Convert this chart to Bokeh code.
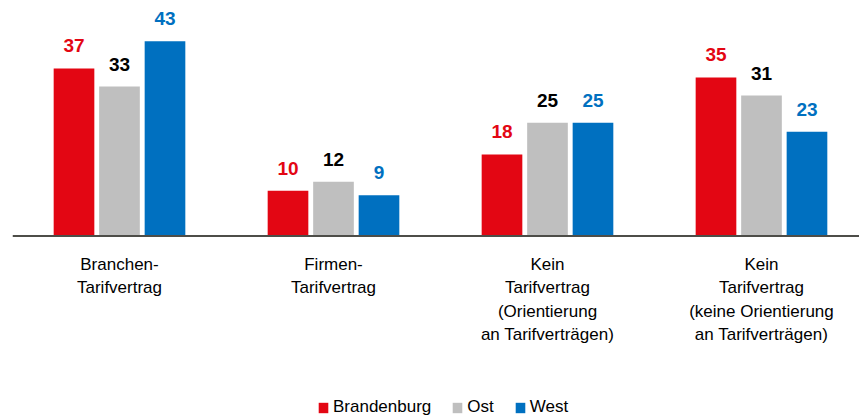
from bokeh.plotting import figure
from bokeh.models import Range1d, Legend, LegendItem, ColumnDataSource, LabelSet, Span
from bokeh.core.properties import value
from bokeh.transform import dodge
from bokeh.embed import file_html
from bokeh.resources import INLINE

categories = ["Branchen-\nTarifvertrag", "Firmen-\nTarifvertrag",
              "Kein\nTarifvertrag\n(Orientierung\nan Tarifverträgen)",
              "Kein\nTarifvertrag\n(keine Orientierung\nan Tarifverträgen)"]
series = ["Brandenburg", "Ost", "West"]
brandenburg = [37, 10, 18, 35]
ost = [33, 12, 25, 31]
west = [43, 9, 25, 23]

bar_colors = ["#E30613", "#BFBFBF", "#0070C0"]
label_colors = ["#E30613", "#000000", "#0070C0"]
FONT = "Liberation Sans"

idx = list(range(len(categories)))
src = ColumnDataSource(dict(x=idx, Brandenburg=brandenburg, Ost=ost, West=west,
                            lb=[str(v) for v in brandenburg],
                            lo=[str(v) for v in ost],
                            lw=[str(v) for v in west],
                            base=[0] * len(idx), cat=categories))

p = figure(width=859, height=418, output_backend="svg", toolbar_location=None,
           x_range=Range1d(-0.5, 3.458), y_range=Range1d(-40.3, 52.0),
           min_border_left=12, min_border_right=0, min_border_top=0,
           min_border_bottom=0)
p.outline_line_color = None
p.grid.visible = False
p.axis.visible = False

offsets = [-0.2126, 0.0, 0.2126]
renderers = []
label_cols = ["lb", "lo", "lw"]
for s, off, c, lc, col in zip(series, offsets, bar_colors, label_colors, label_cols):
    r = p.vbar(x=dodge("x", off, range=p.x_range), top=s, width=0.19, source=src,
               fill_color=c, line_color=None)
    renderers.append(r)
    ls = LabelSet(x=dodge("x", off, range=p.x_range), y=s, text=col, source=src,
                  text_align="center", text_baseline="alphabetic", y_offset=16,
                  text_font=value(FONT), text_font_style="bold", text_font_size="19px",
                  text_color=lc)
    p.add_layout(ls)

# category axis line
p.add_layout(Span(location=0, dimension="width", line_color="#4D4D48", line_width=2))

# category labels below the axis line
p.text(x="x", y="base", text="cat", source=src, text_align="center", text_baseline="top",
       y_offset=19, text_font=value(FONT), text_font_size="17px", text_color="#000000",
       text_line_height=1.23)

legend = Legend(items=[LegendItem(label=s, renderers=[r]) for s, r in zip(series, renderers)],
                orientation="horizontal", location=(305, 1),
                glyph_width=12, glyph_height=13, label_standoff=4, spacing=20,
                padding=0, margin=0, border_line_alpha=0, background_fill_alpha=0,
                label_text_font=FONT, label_text_font_size="17px", label_text_color="#000000")
p.add_layout(legend)

open("out.html", "w").write(file_html(p, INLINE))
